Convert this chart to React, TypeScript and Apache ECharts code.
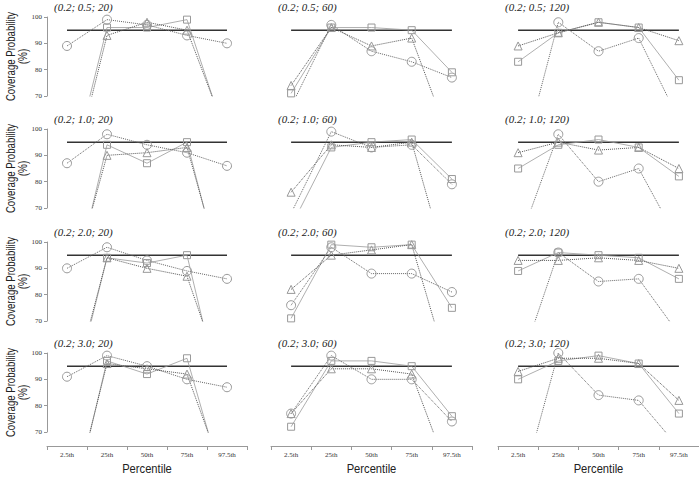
import React, { useEffect, useRef } from "react";
import * as echarts from "echarts";

const categories = ["2.5th", "25th", "50th", "75th", "97.5th"];
const panelTitles = [
  "(0.2; 0.5; 20)", "(0.2; 0.5; 60)", "(0.2; 0.5; 120)",
  "(0.2; 1.0; 20)", "(0.2; 1.0; 60)", "(0.2; 1.0; 120)",
  "(0.2; 2.0; 20)", "(0.2; 2.0; 60)", "(0.2; 2.0; 120)",
  "(0.2; 3.0; 20)", "(0.2; 3.0; 60)", "(0.2; 3.0; 120)",
];
const circleData = [
  [89, 99, 97, 93, 90], [66, 97, 87, 83, 77], [40, 98, 87, 92, 61],
  [87, 98, 94, 91, 86], [68, 99, 93, 94, 79], [56, 98, 80, 85, 57],
  [90, 98, 93, 89, 86], [76, 98, 88, 88, 81], [51, 96, 85, 86, 65],
  [91, 99, 95, 90, 87], [77, 99, 90, 90, 74], [44, 100, 84, 82, 64],
];
const squareData = [
  [35, 96, 96, 99, 53], [71, 96, 96, 95, 79], [83, 94, 98, 96, 76],
  [30, 94, 87, 95, 36], [63, 93, 95, 96, 81], [85, 94, 96, 93, 82],
  [33, 94, 92, 95, 31], [71, 99, 98, 99, 75], [89, 96, 95, 94, 86],
  [33, 97, 92, 98, 45], [72, 97, 97, 95, 76], [90, 97, 99, 96, 77],
];
const triangleData = [
  [32, 93, 98, 95, 55], [74, 96, 89, 92, 51], [89, 94, 98, 96, 91],
  [35, 90, 91, 93, 39], [76, 94, 93, 95, 41], [91, 95, 92, 93, 85],
  [36, 94, 90, 87, 43], [82, 95, 97, 99, 47], [93, 93, 94, 93, 90],
  [35, 96, 94, 92, 50], [77, 94, 94, 92, 51], [93, 98, 98, 96, 82],
];
const targetValue = 95;
const yMin = 70;
const yMax = 100;
const yInterval = 10;
const yTitleLines = ["Coverage Probability", "(%)"];
const xTitle = "Percentile";

const colLeft = [47, 271, 498];
const colWidth = [200, 201, 201];
const rowTop = [17, 129, 242, 353];
const rowHeight = 79;

const SERIF = "'Liberation Serif', 'Times New Roman', serif";
const SANS = "'Liberation Sans', Arial, sans-serif";

export default function App() {
  const ref = useRef<HTMLDivElement>(null);
  useEffect(() => {
    if (!ref.current) return;
    const chart = echarts.init(ref.current, null, { renderer: "svg" });
    const grids: any[] = [];
    const xAxes: any[] = [];
    const yAxes: any[] = [];
    const series: any[] = [];
    const graphics: any[] = [];

    for (let i = 0; i < 12; i++) {
      const r = Math.floor(i / 3);
      const c = i % 3;
      grids.push({ left: colLeft[c], top: rowTop[r], width: colWidth[c], height: rowHeight });
      xAxes.push({
        type: "category",
        gridIndex: i,
        data: categories,
        boundaryGap: true,
        show: r === 3,
        offset: 14,
        axisLine: { show: true, lineStyle: { color: "#999", width: 1 } },
        axisTick: { show: true, length: 4, interval: 0, lineStyle: { color: "#999" } },
        axisLabel: { fontSize: 7, fontFamily: SERIF, color: "#333", margin: 5, interval: 0 },
        splitLine: { show: false },
      });
      yAxes.push({
        type: "value",
        gridIndex: i,
        min: yMin,
        max: yMax,
        interval: yInterval,
        show: c === 0,
        axisLine: { show: true, lineStyle: { color: "#999", width: 1 } },
        axisTick: { show: true, length: 3, lineStyle: { color: "#999" } },
        axisLabel: { fontSize: 7, fontFamily: SERIF, color: "#333", margin: 5 },
        splitLine: { show: false },
      });
      series.push({
        type: "line",
        xAxisIndex: i,
        yAxisIndex: i,
        data: categories.map(() => targetValue),
        symbol: "none",
        lineStyle: { color: "#333", width: 1.5, type: "solid" },
        silent: true,
        z: 1,
      });
      const common = {
        type: "line",
        xAxisIndex: i,
        yAxisIndex: i,
        clip: true,
        showAllSymbol: true,
        silent: true,
        z: 3,
      };
      series.push({
        ...common,
        data: squareData[i],
        symbol: "rect",
        symbolSize: 7,
        lineStyle: { type: "solid", color: "#9a9a9a", width: 0.8 },
        itemStyle: { color: "rgba(255,255,255,0)", borderColor: "#999", borderWidth: 1 },
      });
      series.push({
        ...common,
        data: triangleData[i],
        symbol: "triangle",
        symbolSize: 8,
        lineStyle: { type: "dotted", color: "#555", width: 1 },
        itemStyle: { color: "rgba(255,255,255,0)", borderColor: "#999", borderWidth: 1 },
      });
      series.push({
        ...common,
        data: circleData[i],
        symbol: "circle",
        symbolSize: 9,
        lineStyle: { type: "dotted", color: "#666", width: 1 },
        itemStyle: { color: "rgba(255,255,255,0)", borderColor: "#999", borderWidth: 1 },
      });
      graphics.push({
        type: "text",
        left: colLeft[c] + 7,
        top: rowTop[r] - 16,
        style: {
          text: panelTitles[i],
          fontSize: 11,
          fontStyle: "italic",
          fontFamily: SERIF,
          fill: "#222",
        },
      });
    }

    for (let r = 0; r < 4; r++) {
      const cy = rowTop[r] + rowHeight / 2;
      graphics.push({
        type: "text",
        x: 11,
        y: cy,
        rotation: Math.PI / 2,
        scaleX: 0.77,
        style: {
          text: yTitleLines[0],
          fontSize: 12.5,
          fontFamily: SANS,
          fill: "#222",
          align: "center",
          verticalAlign: "middle",
        },
      });
      graphics.push({
        type: "text",
        x: 23,
        y: cy,
        rotation: Math.PI / 2,
        scaleX: 0.8,
        style: {
          text: yTitleLines[1],
          fontSize: 12.5,
          fontFamily: SANS,
          fill: "#222",
          align: "center",
          verticalAlign: "middle",
        },
      });
    }
    for (let c = 0; c < 3; c++) {
      graphics.push({
        type: "text",
        x: colLeft[c] + colWidth[c] / 2,
        y: 469,
        scaleX: 0.86,
        style: {
          text: xTitle,
          fontSize: 13,
          fontFamily: SANS,
          fill: "#222",
          align: "center",
          verticalAlign: "middle",
        },
      });
    }

    chart.setOption({
      animation: false,
      backgroundColor: "#fff",
      grid: grids,
      xAxis: xAxes,
      yAxis: yAxes,
      series,
      graphic: graphics,
    });
    return () => chart.dispose();
  }, []);
  return (
    <div
      ref={ref}
      style={{ position: "fixed", left: 0, top: 0, width: 699, height: 479 }}
    />
  );
}
